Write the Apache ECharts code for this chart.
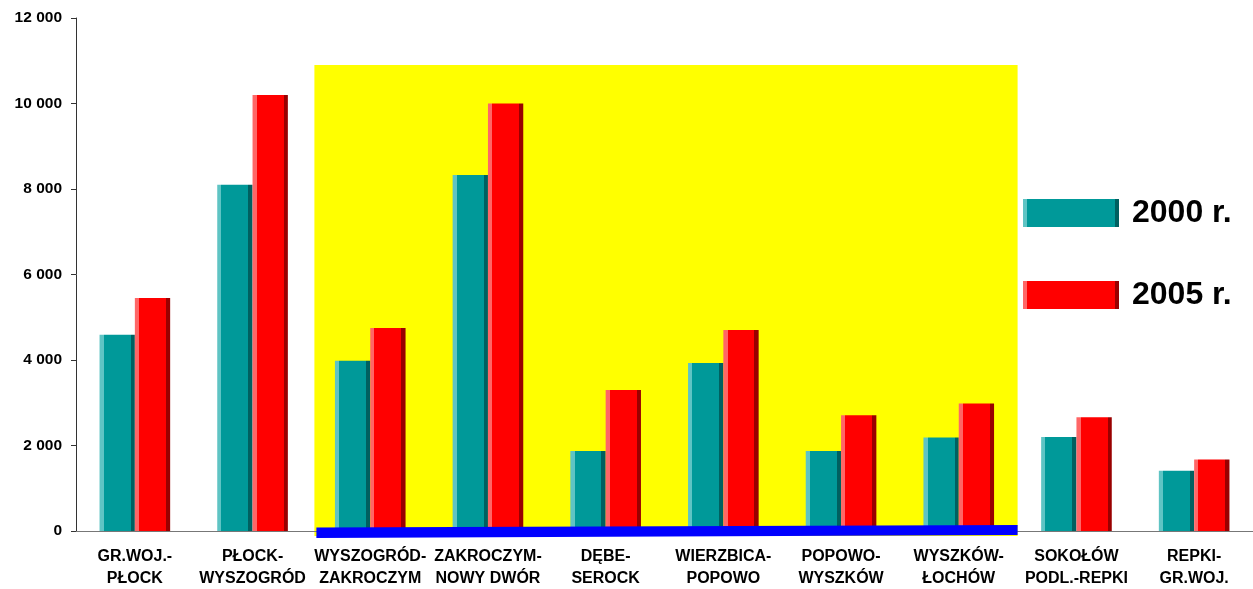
<!DOCTYPE html>
<html>
<head>
<meta charset="utf-8">
<script src="https://cdn.jsdelivr.net/npm/echarts@6/dist/echarts.min.js"></script>
<style>
html,body{margin:0;padding:0;background:#fff;overflow:hidden;}
#chart{width:1253px;height:589px;}
</style>
</head>
<body>
<div id="chart"></div>
<script>
var categories = [
  'GR.WOJ.-\nPŁOCK',
  'PŁOCK-\nWYSZOGRÓD',
  'WYSZOGRÓD-\nZAKROCZYM',
  'ZAKROCZYM-\nNOWY DWÓR',
  'DĘBE-\nSEROCK',
  'WIERZBICA-\nPOPOWO',
  'POPOWO-\nWYSZKÓW',
  'WYSZKÓW-\nŁOCHÓW',
  'SOKOŁÓW\nPODL.-REPKI',
  'REPKI-\nGR.WOJ.'
];
var seriesNames = ['2000 r.', '2005 r.'];
var values2000 = [4590, 8100, 3980, 8330, 1870, 3930, 1870, 2190, 2200, 1410];
var values2005 = [5450, 10200, 4750, 10000, 3300, 4700, 2710, 2980, 2660, 1670];
var yTicks = { min: 0, max: 12000, interval: 2000 };
var highlightFrom = 2, highlightTo = 7, highlightTop = 10900;

function bevel(light, base, dark, w) {
  return new echarts.graphic.LinearGradient(0, 0, 1, 0, [
    {offset: 0, color: light}, {offset: w, color: light},
    {offset: w, color: base}, {offset: 1 - w, color: base},
    {offset: 1 - w, color: dark}, {offset: 1, color: dark}
  ]);
}

var chart = echarts.init(document.getElementById('chart'));
var font = 'Arial, "Liberation Sans", sans-serif';
chart.setOption({
  animation: false,
  backgroundColor: '#fff',
  grid: { left: 76, right: 0, top: 18, bottom: 53, containLabel: false },
  legend: {
    orient: 'vertical',
    left: 1023, top: 197, padding: 0,
    itemWidth: 96, itemHeight: 28, itemGap: 50,
    icon: 'rect',
    data: [
      { name: seriesNames[0], itemStyle: { color: bevel('#5fc4c4', '#009999', '#006060', 0.04) } },
      { name: seriesNames[1], itemStyle: { color: bevel('#ff6666', '#ff0000', '#990000', 0.04) } }
    ],
    textStyle: { fontFamily: font, fontSize: 32, fontWeight: 'bold', color: '#000', lineHeight: 28, padding: [0,0,0,8] }
  },
  xAxis: {
    type: 'category',
    data: categories,
    axisLine: { lineStyle: { color: '#777', width: 1 } },
    axisTick: { show: false },
    axisLabel: { interval: 0, margin: 15, fontFamily: font, fontSize: 16, fontWeight: 'bold', color: '#000', lineHeight: 21.5 }
  },
  yAxis: {
    type: 'value',
    min: yTicks.min, max: yTicks.max, interval: yTicks.interval,
    axisLine: { show: true, lineStyle: { color: '#333', width: 1 } },
    axisTick: { show: true, inside: false, length: 5, lineStyle: { color: '#333' } },
    splitLine: { show: false },
    axisLabel: {
      margin: 14, fontFamily: font, fontSize: 15.5, fontWeight: 'bold', color: '#000',
      formatter: function (v) { return String(v).replace(/\B(?=(\d{3})+(?!\d))/g, ' '); }
    }
  },
  series: [
    { name: seriesNames[0], type: 'bar', data: values2000, barGap: '0%', barCategoryGap: '40%', z: 5,
      itemStyle: { color: bevel('#5fc4c4', '#009999', '#006060', 0.12) } },
    { name: seriesNames[1], type: 'bar', data: values2005, z: 5,
      itemStyle: { color: bevel('#ff6666', '#ff0000', '#990000', 0.12) } }
  ]
});

function drawDecor() {
  var c0 = chart.convertToPixel({xAxisIndex: 0}, categories[0]);
  var c1 = chart.convertToPixel({xAxisIndex: 0}, categories[1]);
  var band = c1 - c0;
  var left = chart.convertToPixel({xAxisIndex: 0}, categories[highlightFrom]) - band / 2;
  var right = chart.convertToPixel({xAxisIndex: 0}, categories[highlightTo]) + band / 2;
  var top = chart.convertToPixel({yAxisIndex: 0}, highlightTop);
  var zero = chart.convertToPixel({yAxisIndex: 0}, 0);
  chart.setOption({
    graphic: [
      { type: 'rect', z: -10, silent: true,
        shape: { x: left + 3, y: top, width: right - left - 3, height: zero + 5 - top },
        style: { fill: '#ffff00' } },
      { type: 'polygon', z: 100, silent: true,
        shape: { points: [[left + 5, zero - 3.5], [right, zero - 6], [right, zero + 4], [left + 5, zero + 7]] },
        style: { fill: '#0000ff' } }
    ]
  });
}
drawDecor();
</script>
</body>
</html>
